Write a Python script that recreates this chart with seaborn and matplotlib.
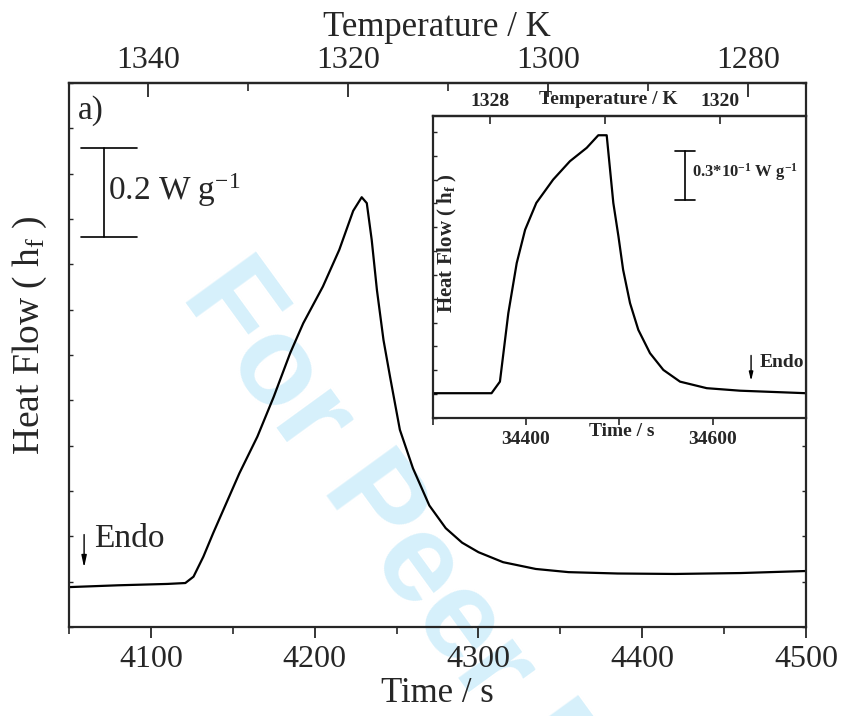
import matplotlib
matplotlib.use('Agg')
import matplotlib.pyplot as plt
from matplotlib.ticker import MultipleLocator, FixedLocator, FuncFormatter
import seaborn as sns

# --- data ---
# main DSC trace (time in s, heat flow in W/g, arbitrary offset)
main_time = [4050, 4080, 4110, 4121, 4126, 4132, 4138, 4154, 4165, 4175, 4185,
             4193, 4205, 4215, 4223.5, 4228.7, 4231.8, 4234.8, 4238, 4242, 4246,
             4252, 4260, 4270, 4280, 4290, 4300, 4315, 4335, 4355, 4385, 4420,
             4460, 4500]
main_flow = [0.088, 0.092, 0.095, 0.097, 0.111, 0.155, 0.207, 0.339, 0.420, 0.508, 0.604,
             0.670, 0.751, 0.832, 0.918, 0.948, 0.935, 0.854, 0.743, 0.633, 0.552,
             0.435, 0.350, 0.268, 0.218, 0.186, 0.165, 0.143, 0.128, 0.121, 0.118, 0.117,
             0.119, 0.1235]

# inset DSC trace
inset_time = [34300, 34363, 34372, 34381, 34390, 34399, 34411, 34429, 34447, 34465,
              34477.4, 34486.4, 34490, 34493.5, 34499, 34504, 34511.4, 34520.3,
              34532.8, 34547.1, 34565, 34593.6, 34629.3, 34700]
inset_flow = [0.0148, 0.0148, 0.0217, 0.0626, 0.0925, 0.1124, 0.1284, 0.1423, 0.1533, 0.1613,
              0.1688, 0.1688, 0.1483, 0.1284, 0.1084, 0.0885, 0.0686, 0.0526,
              0.0387, 0.0287, 0.0217, 0.0178, 0.0163, 0.0148]

main_ticks_time = [4100, 4200, 4300, 4400, 4500]
main_ticks_temp = [1340, 1320, 1300, 1280]
inset_ticks_time = [34400, 34600]
inset_ticks_temp = [1328, 1324, 1320]
inset_temp_labels = {1328: '1328', 1320: '1320'}


# temperature scale of the cooling runs
def main_t2T(t):
    return 1340 - (t - 4098.2) * 0.1638


def main_T2t(T):
    return 4098.2 + (1340 - T) / 0.1638


def inset_t2T(t):
    return 1328 - (t - 34361.4) * 0.03253


def inset_T2t(T):
    return 34361.4 + (1328 - T) / 0.03253


sns.set_style('ticks')
plt.rcParams['font.family'] = ['Liberation Serif', 'DejaVu Serif']
plt.rcParams['mathtext.fontset'] = 'custom'
plt.rcParams['mathtext.rm'] = 'Liberation Serif'
plt.rcParams['mathtext.it'] = 'Liberation Serif:italic'
plt.rcParams['mathtext.bf'] = 'Liberation Serif:bold'
plt.rcParams['axes.linewidth'] = 1.6

fig = plt.figure(figsize=(8.45, 7.16), dpi=100)

# watermark of the review copy
fig.text(180 / 845, 1 - 295 / 716, 'For Peer Review', fontsize=91, fontweight='bold',
         family='Liberation Sans', color='#d6f0fb', rotation=-54,
         rotation_mode='anchor', ha='left', va='baseline', zorder=-5)

# --- main axes ---
ax = fig.add_axes([0.0817, 0.1243, 0.8722, 0.7598])
ax.set_facecolor('none')
sns.lineplot(x=main_time, y=main_flow, ax=ax, color='black', linewidth=1.6,
             estimator=None, sort=False)
ax.set_xlim(4050, 4500)
ax.set_ylim(0, 1.2)
ax.xaxis.set_major_locator(FixedLocator(main_ticks_time))
ax.xaxis.set_minor_locator(MultipleLocator(50))
ax.yaxis.set_major_locator(MultipleLocator(0.1))
ax.tick_params(axis='x', which='major', direction='out', length=8, width=1.3,
               labelsize=23, pad=5, top=False)
ax.tick_params(axis='x', which='minor', direction='out', length=5, width=1.2, top=False)
ax.tick_params(axis='y', which='major', direction='in', length=3, width=1.0,
               left=True, right=True, labelleft=False)
ax.set_xlabel('')
ax.set_ylabel('')
for s in ax.spines.values():
    s.set_visible(True)

fig.text(437 / 845, 1 - 694 / 716, 'Time / s', fontsize=25, ha='center', va='center')
fig.text(30 / 845, 1 - 335 / 716, 'Heat Flow ( h$_\\mathrm{f}$ )', fontsize=27,
         rotation=90, ha='center', va='center')

top = ax.secondary_xaxis('top', functions=(main_t2T, main_T2t))
top.xaxis.set_major_locator(FixedLocator(main_ticks_temp))
top.xaxis.set_minor_locator(MultipleLocator(10))
top.tick_params(axis='x', which='major', direction='in', length=10, width=1.3,
                labelsize=23, pad=6)
top.tick_params(axis='x', which='minor', direction='in', length=6, width=1.2)
fig.text(437 / 845, 1 - 27 / 716, 'Temperature / K', fontsize=25, ha='center', va='center')

# annotations in main plot
ax.text(4055.5, 1.138, 'a)', fontsize=24, ha='left', va='center')
ax.plot([4071.4, 4071.4], [0.860, 1.057], color='black', lw=1.2)
ax.plot([4057.3, 4091.5], [1.057, 1.057], color='black', lw=1.2)
ax.plot([4057.3, 4091.5], [0.860, 0.860], color='black', lw=1.2)
ax.text(4073.8, 0.964, '0.2 W g$^{\\mathrm{-1}}$', fontsize=24, ha='left', va='center')
ax.annotate('', xy=(4059.2, 0.125), xytext=(4059.2, 0.21),
            arrowprops=dict(arrowstyle='-|>,head_length=0.7,head_width=0.15',
                            color='black', lw=1.0))
ax.text(4065.3, 0.194, 'Endo', fontsize=24, ha='left', va='center')

# --- inset ---
ins = fig.add_axes([0.5121, 0.4162, 0.4418, 0.4211])
ins.set_facecolor('white')
sns.lineplot(x=inset_time, y=inset_flow, ax=ins, color='black', linewidth=1.6,
             estimator=None, sort=False)
ins.set_xlim(34300, 34700)
ins.set_ylim(0, 0.18)
ins.xaxis.set_major_locator(FixedLocator(inset_ticks_time))
ins.xaxis.set_minor_locator(MultipleLocator(100))
ins.yaxis.set_major_locator(MultipleLocator(0.01423))
ins.tick_params(axis='x', which='both', direction='out', length=5, width=1.2,
                labelsize=14, pad=4, top=False)
ins.tick_params(axis='y', which='major', direction='in', length=3, width=1.0,
                left=True, right=False, labelleft=False)
for lab in ins.get_xticklabels():
    lab.set_fontweight('bold')
ins.set_xlabel('')
ins.set_ylabel('')
for s in ins.spines.values():
    s.set_visible(True)

itop = ins.secondary_xaxis('top', functions=(inset_t2T, inset_T2t))
itop.xaxis.set_major_locator(FixedLocator(inset_ticks_temp))
itop.xaxis.set_major_formatter(FuncFormatter(lambda v, p: inset_temp_labels.get(int(round(v)), '')))
itop.tick_params(axis='x', which='major', direction='in', length=6, width=1.2,
                 labelsize=14, pad=5)
for lab in itop.get_xticklabels():
    lab.set_fontweight('bold')

fig.text(608 / 845, 1 - 100 / 716, 'Temperature / K', fontsize=14, fontweight='bold',
         ha='center', va='center')
fig.text(622 / 845, 1 - 431 / 716, 'Time / s', fontsize=14, fontweight='bold',
         ha='center', va='center')
fig.text(447 / 845, 1 - 243 / 716, 'Heat Flow ( h$_{\\mathbf{f}}$ )', fontsize=15,
         fontweight='bold', rotation=90, ha='center', va='center')

ins.plot([34570.3, 34570.3], [0.1304, 0.1593], color='black', lw=1.2)
ins.plot([34559.6, 34581.0], [0.1593, 0.1593], color='black', lw=1.2)
ins.plot([34559.6, 34581.0], [0.1304, 0.1304], color='black', lw=1.2)
ins.text(34577.5, 0.1471, '0.3*10$^{\\mathbf{-1}}$ W g$^{\\mathbf{-1}}$', fontsize=12,
         fontweight='bold', ha='left', va='center')
ins.annotate('', xy=(34641.1, 0.0205), xytext=(34641.1, 0.039),
             arrowprops=dict(arrowstyle='-|>,head_length=0.5,head_width=0.12',
                             color='black', lw=1.0))
ins.text(34650.7, 0.0329, 'Endo', fontsize=14, fontweight='bold', ha='left', va='center')

fig.savefig('out.png', dpi=100)
